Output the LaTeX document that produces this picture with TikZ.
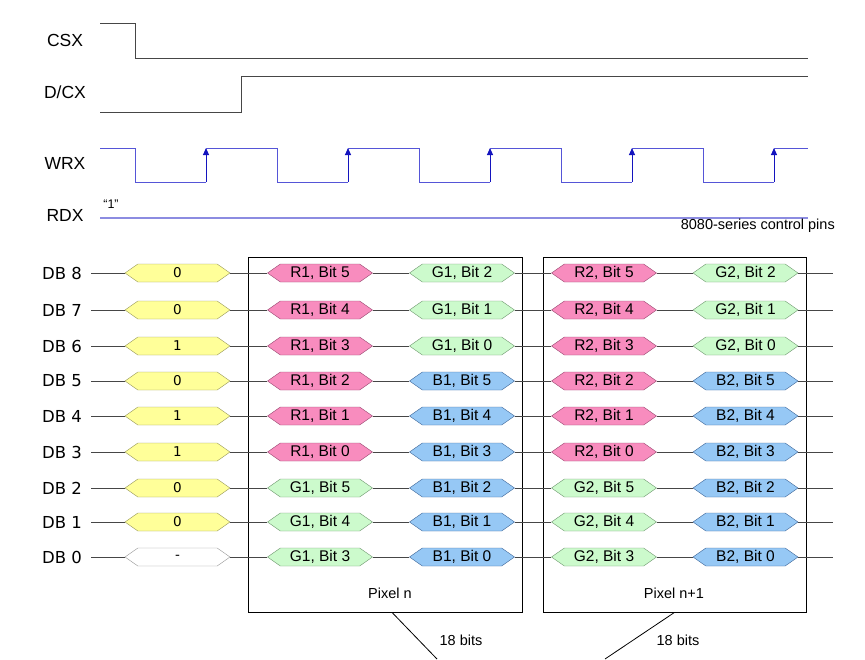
\documentclass[tikz,border=0pt]{standalone}
\usepackage{fontspec}
\setmainfont{Liberation Sans}
\newfontfamily\dbfont{DejaVu Sans}
\usetikzlibrary{shapes.symbols,arrows.meta}

\definecolor{fillY}{RGB}{255,255,153}
\definecolor{drawY}{RGB}{150,150,90}
\definecolor{fillW}{RGB}{255,255,255}
\definecolor{drawW}{RGB}{150,150,150}
\definecolor{fillR}{RGB}{248,140,190}
\definecolor{drawR}{RGB}{150,70,110}
\definecolor{fillG}{RGB}{204,250,204}
\definecolor{drawG}{RGB}{110,150,110}
\definecolor{fillB}{RGB}{150,200,245}
\definecolor{drawB}{RGB}{60,100,150}
\definecolor{wrblue}{RGB}{85,85,215}
\definecolor{edgeblue}{RGB}{20,20,190}
\definecolor{rdblue}{RGB}{140,140,225}
\definecolor{busgray}{RGB}{70,70,70}

\tikzset{
  hexa/.style={shape=signal, signal to=west and east, signal pointer angle=70,
    minimum width=105pt, minimum height=18pt, inner sep=0pt,
    font=\fontsize{15.5}{16}\selectfont},
  val/.style={hexa, fill=fill#1, draw=draw#1, font=\dbfont\fontsize{13.5}{14}\selectfont},
  bit/.style={hexa, fill=fill#1, draw=draw#1},
  dblabel/.style={font=\dbfont\fontsize{16.5}{17}\selectfont, inner sep=0pt},
  siglabel/.style={font=\fontsize{17.5}{18}\selectfont, inner sep=0pt},
  busline/.style={draw=busgray, line width=0.8pt},
  pixbox/.style={draw, line width=0.8pt, minimum width=#1, minimum height=355pt, inner sep=0pt},
  smalltext/.style={font=\fontsize{14.5}{15}\selectfont, inner sep=0pt}
}

\begin{document}
\begin{tikzpicture}[x=1pt, y=-1pt]
  \useasboundingbox (0,0) rectangle (865,659);

  % control pins
  \node[siglabel] (csx) at (65,40) {CSX};
  \node[siglabel] (dcx) at (65,92) {D/CX};
  \node[siglabel] (wrx) at (65,163) {WRX};
  \node[siglabel] (rdx) at (65,215) {RDX};

  \draw[busgray, line width=0.9pt] (100,23) -- (135,23) -- (135,58) -- (808,58);
  \draw[busgray, line width=0.9pt] (100,112) -- (241,112) -- (241,76) -- (808,76);

  \draw[wrblue, line width=0.9pt] (100,148) -- (135,148);
  \foreach \x in {135,277,419,561,703} {
    \draw[wrblue, line width=0.9pt] (\x,148) -- (\x,182) -- (\x+71,182);
    \draw[edgeblue, line width=0.9pt, -{Triangle[length=7pt,width=6pt]}] (\x+71,182) -- (\x+71,148);
    \draw[wrblue, line width=0.9pt] (\x+71,148) -- ({min(\x+142,808)},148);
  }

  \draw[rdblue, line width=1.2pt] (100,218) -- (808,218);
  \node[smalltext, font=\fontsize{12.5}{13}\selectfont] (one) at (111,204) {“1”};
  \node[smalltext, anchor=east] (ctl) at (835,226) {8080-series control pins};

  % pixel boxes
  \node[pixbox=274pt] (pix1) at (385,434.5) {};
  \node[pixbox=263pt] (pix2) at (674.5,434.5) {};
  \node[smalltext] (pixn) at (390,593) {Pixel n};
  \node[smalltext] (pixnn) at (674,593) {Pixel n+1};
  \node[smalltext] (bits1) at (461,640) {18 bits};
  \node[smalltext] (bits2) at (678,640) {18 bits};
  \coordinate (end1) at (437,659);
  \coordinate (end2) at (605,659);
  \draw[line width=0.8pt] ([xshift=7pt]pix1.south) -- (end1);
  \draw[line width=0.8pt] (pix2.south) -- (end2);

  % data bus
  \foreach \y/\db/\v/\vc/\ca/\ba/\cb/\bb in {
      273/8/0/Y/R/5/G/2, 310/7/0/Y/R/4/G/1, 346/6/1/Y/R/3/G/0,
      381/5/0/Y/R/2/B/5, 416/4/1/Y/R/1/B/4, 452/3/1/Y/R/0/B/3,
      488/2/0/Y/G/5/B/2, 522/1/0/Y/G/4/B/1, 557/0/-/W/G/3/B/0} {
    \node[dblabel] (db\db) at (62,\y) {DB \db};
    \node[val=\vc] (v\db) at (177.5,\y) {\v};
    \node[bit=\ca] (a\db) at (320,\y) {\ca1, Bit \ba};
    \node[bit=\cb] (b\db) at (462,\y) {\cb1, Bit \bb};
    \node[bit=\ca] (c\db) at (604,\y) {\ca2, Bit \ba};
    \node[bit=\cb] (d\db) at (745.5,\y) {\cb2, Bit \bb};
    \coordinate (e\db) at (833,\y);

    \draw[busline, shorten <=9pt] (db\db.east) -- (v\db.west);
    \draw[busline] (v\db.east) -- (a\db.west);
    \draw[busline] (a\db.east) -- (b\db.west);
    \draw[busline] (b\db.east) -- (c\db.west);
    \draw[busline] (c\db.east) -- (d\db.west);
    \draw[busline] (d\db.east) -- (e\db);
  }
\end{tikzpicture}
\end{document}
